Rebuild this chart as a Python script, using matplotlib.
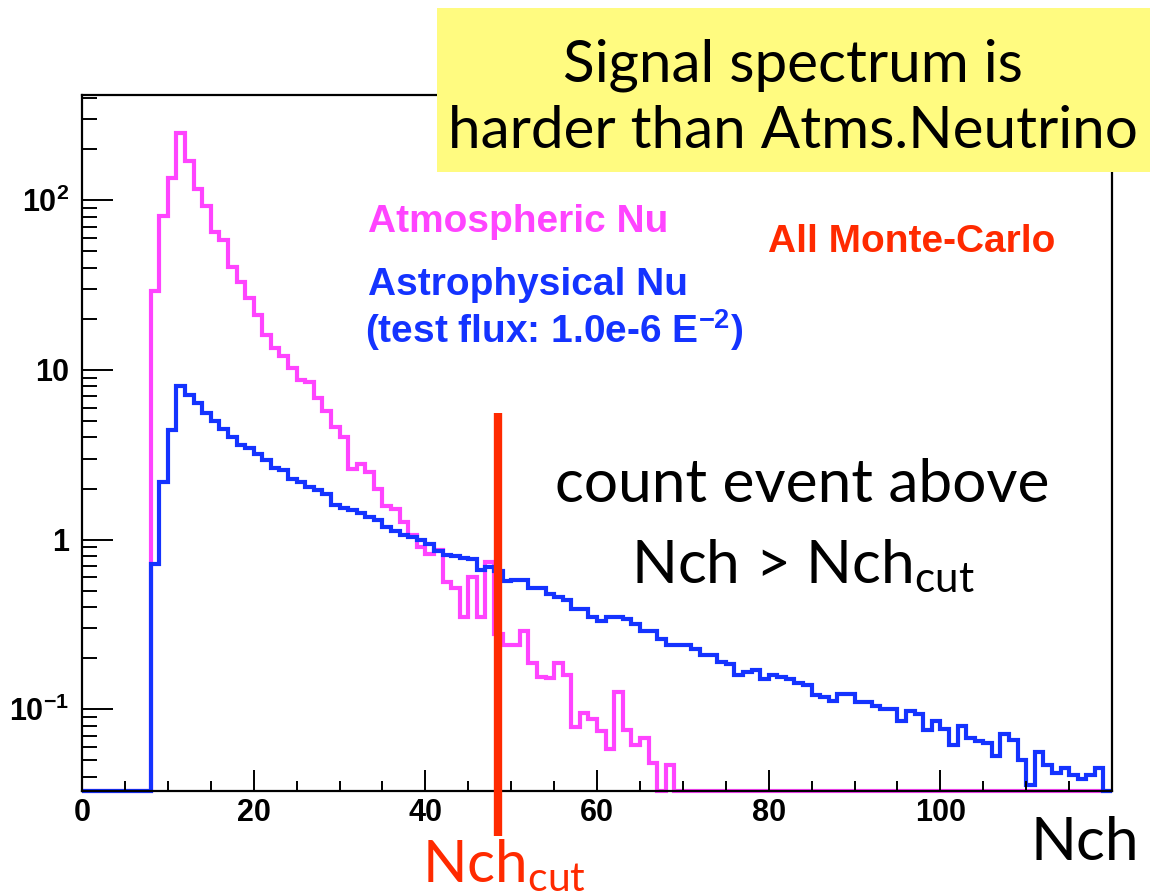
import numpy as np
import matplotlib
matplotlib.use("Agg")
import matplotlib.pyplot as plt
from matplotlib.ticker import FixedLocator, FixedFormatter, MultipleLocator, LogLocator, NullFormatter
from matplotlib.patches import Rectangle

# Nch histograms, 1-unit bins from 0 to 120
BIN_EDGES = np.arange(0, 121, 1)

ATMS_NU = [0, 0, 0, 0, 0, 0, 0, 0, 29, 81,
           136, 250, 170, 116, 93, 65, 58, 40.5, 33, 26.4,
           21, 16, 13.4, 12, 10.2, 8.7, 8.5, 6.8, 5.7, 4.6,
           4.0, 2.6, 2.8, 2.5, 2.0, 1.57, 1.52, 1.27, 1.06, 0.90,
           0.82, 0.87, 0.56, 0.52, 0.35, 0.60, 0.35, 0.74, 0.276, 0.239,
           0.239, 0.29, 0.187, 0.155, 0.152, 0.187, 0.16, 0.079, 0.095, 0.088,
           0.074, 0.058, 0.127, 0.075, 0.062, 0.068, 0.048, 0, 0.047, 0] + [0] * 50

ASTRO_NU = [0, 0, 0, 0, 0, 0, 0, 0, 0.72, 2.18,
            4.43, 8.0, 7.1, 6.4, 5.6, 5.0, 4.5, 4.0, 3.6, 3.45,
            3.2, 2.96, 2.66, 2.56, 2.28, 2.18, 2.04, 1.95, 1.86, 1.61,
            1.54, 1.50, 1.44, 1.35, 1.31, 1.18, 1.12, 1.06, 1.04, 0.99,
            0.94, 0.86, 0.81, 0.80, 0.78, 0.77, 0.66, 0.69, 0.65, 0.57,
            0.58, 0.58, 0.52, 0.52, 0.48, 0.46, 0.44, 0.39, 0.39, 0.35,
            0.33, 0.35, 0.35, 0.34, 0.32, 0.29, 0.29, 0.26, 0.24, 0.24,
            0.24, 0.227, 0.21, 0.21, 0.19, 0.186, 0.16, 0.165, 0.17, 0.15,
            0.16, 0.156, 0.15, 0.143, 0.14, 0.122, 0.118, 0.112, 0.123, 0.123,
            0.11, 0.11, 0.104, 0.10, 0.10, 0.085, 0.098, 0.094, 0.076, 0.085,
            0.077, 0.062, 0.08, 0.068, 0.065, 0.063, 0.053, 0.072, 0.066, 0.05,
            0.036, 0.056, 0.047, 0.042, 0.045, 0.041, 0.039, 0.041, 0.045, 0]

NCH_CUT = 48.5

X_TICKS = [0, 20, 40, 60, 80, 100]
Y_TICKS = [0.1, 1, 10, 100]
Y_TICK_LABELS = [r"$\mathbf{10^{-1}}$", "1", "10", r"$\mathbf{10^{2}}$"]

YMIN, YMAX = 0.033, 417

MAGENTA = "#ff44ff"
BLUE = "#1433ff"
RED = "#ff2a00"

plt.rcParams["mathtext.fontset"] = "custom"
plt.rcParams["mathtext.rm"] = "Liberation Sans"
plt.rcParams["mathtext.bf"] = "Liberation Sans:bold"
plt.rcParams["mathtext.sf"] = "Lato"

W, H = 1161, 892
fig = plt.figure(figsize=(W / 100, H / 100), dpi=100)


def fx(px):
    return px / W


def fy(py):
    return 1 - py / H


ax = fig.add_axes([fx(82), fy(791), fx(1112) - fx(82), fy(95) - fy(791)])
ax.set_yscale("log")
ax.set_xlim(0, 120)
ax.set_ylim(YMIN, YMAX)

# empty bins sit on the lower frame, ROOT style
for vals, col in [(ATMS_NU, MAGENTA), (ASTRO_NU, BLUE)]:
    v = np.clip(np.asarray(vals, dtype=float), YMIN, None)
    ax.stairs(v, BIN_EDGES, baseline=None, color=col, lw=3, clip_on=False)

# cut line
ax.plot([NCH_CUT, NCH_CUT], [5.6, 0.0178], color=RED, lw=6, clip_on=False,
        solid_capstyle="butt", zorder=5)

for s in ax.spines.values():
    s.set_linewidth(1.6)

ax.xaxis.set_major_locator(FixedLocator(X_TICKS))
ax.xaxis.set_minor_locator(MultipleLocator(5))
ax.yaxis.set_major_locator(FixedLocator(Y_TICKS))
ax.yaxis.set_major_formatter(FixedFormatter(Y_TICK_LABELS))
ax.yaxis.set_minor_locator(LogLocator(base=10, subs=np.arange(2, 10)))
ax.yaxis.set_minor_formatter(NullFormatter())
ax.tick_params(axis="x", which="major", direction="in", length=15, width=1.4, pad=5)
ax.tick_params(axis="x", which="minor", direction="in", length=7.5, width=1.4)
ax.tick_params(axis="y", which="major", direction="in", length=22, width=1.4, pad=9)
ax.tick_params(axis="y", which="minor", direction="in", length=11, width=1.4)
for lab in ax.get_xticklabels() + ax.get_yticklabels():
    lab.set_fontfamily("Liberation Sans")
    lab.set_fontweight("bold")
    lab.set_fontsize(22)

# legend-like labels
bold = dict(family="Liberation Sans", weight="bold", fontsize=28, va="baseline", ha="left")
fig.text(fx(368), fy(232), "Atmospheric Nu", color=MAGENTA, **bold)
fig.text(fx(368), fy(295), "Astrophysical Nu", color=BLUE, **bold)
fig.text(fx(365), fy(343), r"(test flux: 1.0e-6 E$^{\mathbf{-2}}$)", color=BLUE, **bold)
fig.text(fx(768), fy(252), "All Monte-Carlo", color=RED, **bold)

big = dict(family="Lato", fontsize=43.5, va="baseline")
fig.text(fx(802), fy(502), "count event above", ha="center", color="black", **big)
fig.text(fx(803), fy(583), r"Nch > Nch$_{\mathsf{cut}}$", ha="center", color="black", **big)
fig.text(fx(1030), fy(860), "Nch", ha="left", color="black", **big)
fig.text(fx(422), fy(882), r"Nch$_{\mathsf{cut}}$", ha="left", color=RED,
         family="Lato", fontsize=42, va="baseline")

# headline box
fig.patches.append(Rectangle((fx(437), fy(172)), fx(1150) - fx(437), fy(8) - fy(172),
                             transform=fig.transFigure, facecolor="#fffb80",
                             edgecolor="none", zorder=10))
head = dict(family="Lato", fontsize=42, va="baseline", ha="center", color="black", zorder=11)
fig.text(fx(793), fy(82), "Signal spectrum is", **head)
fig.text(fx(793), fy(148), "harder than Atms.Neutrino", **head)

fig.savefig("out.png", dpi=100)
